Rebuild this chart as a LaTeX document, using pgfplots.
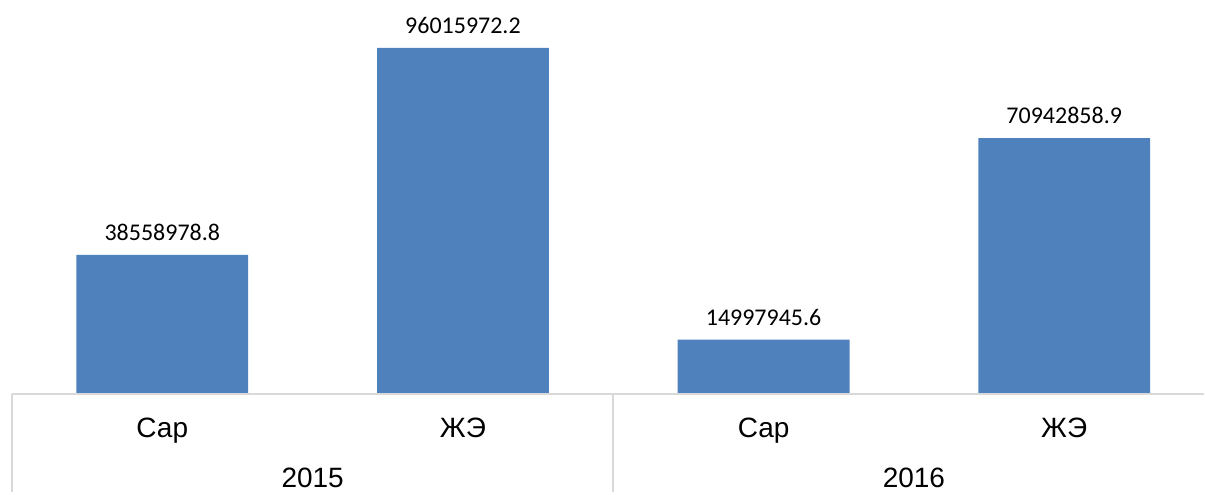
\documentclass[border=0pt]{standalone}
\usepackage{fontspec}
\setmainfont{Liberation Sans}
\newfontfamily\calib{Carlito}
\usepackage{pgfplots}
\pgfplotsset{compat=1.18}
\definecolor{barblue}{HTML}{4F81BD}
\definecolor{gridgray}{HTML}{D9D9D9}
\begin{document}
\begin{tikzpicture}
\begin{axis}[
 scale only axis, width=596.5pt, height=197pt,
 xmin=-0.5, xmax=3.465, ymin=0, ymax=109340000,
 axis lines=none, clip=false,
 ybar, bar width=86pt,
 xtick=\empty, ytick=\empty,
 nodes near coords, point meta=explicit symbolic,
 every node near coord/.append style={font=\calib\fontsize{12}{13}\selectfont, anchor=south, inner sep=0pt, yshift=7pt},
]
\addplot[fill=barblue, draw=none] table[meta=label] {
x y label
0 38558978.8 38558978.8
1 96015972.2 96015972.2
2 14997945.6 14997945.6
3 70942858.9 70942858.9
};
\draw[gridgray, line width=1pt] (axis cs:-0.5,0) -- (axis cs:3.465,0);
\draw[gridgray, line width=1pt] (axis cs:-0.5,0) -- ([yshift=-49pt]axis cs:-0.5,0);
\draw[gridgray, line width=1pt] (axis cs:1.5,0) -- ([yshift=-49pt]axis cs:1.5,0);
\node[anchor=base, font=\fontsize{14}{16}\selectfont] at ([yshift=-22pt]axis cs:0,0) {Сар};
\node[anchor=base, font=\fontsize{14}{16}\selectfont] at ([yshift=-22pt]axis cs:1,0) {ЖЭ};
\node[anchor=base, font=\fontsize{14}{16}\selectfont] at ([yshift=-22pt]axis cs:2,0) {Сар};
\node[anchor=base, font=\fontsize{14}{16}\selectfont] at ([yshift=-22pt]axis cs:3,0) {ЖЭ};
\node[anchor=base, font=\fontsize{14}{16}\selectfont] at ([yshift=-47pt]axis cs:0.5,0) {2015};
\node[anchor=base, font=\fontsize{14}{16}\selectfont] at ([yshift=-47pt]axis cs:2.5,0) {2016};
\path ([xshift=-6pt]axis cs:-0.5,109340000) rectangle ([yshift=-49pt]axis cs:3.465,0);
\end{axis}
\end{tikzpicture}
\end{document}
